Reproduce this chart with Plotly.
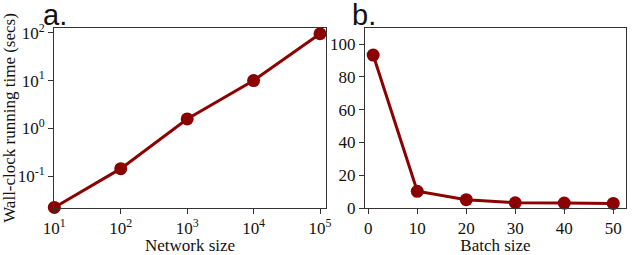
import plotly.graph_objects as go

network_size = [10, 100, 1000, 10000, 100000]
runtime_a = [0.0225, 0.145, 1.58, 10.0, 95.0]

batch_size = [1, 10, 20, 30, 40, 50]
runtime_b = [93.3, 10.2, 5.1, 3.2, 3.0, 2.8]

xa_tickvals = [10, 100, 1000, 10000, 100000]
xa_ticktext = ["10<sup>1</sup>", "10<sup>2</sup>", "10<sup>3</sup>", "10<sup>4</sup>", "10<sup>5</sup>"]
ya_tickvals = [0.1, 1, 10, 100]
ya_ticktext = ["10<sup>-1</sup>", "10<sup>0</sup>", "10<sup>1</sup>", "10<sup>2</sup>"]

color = "#8b0000"
serif = "Liberation Serif"
FS = 17

W, H = 640, 255
L, R, T, B = 54, 14, 28, 47
PW, PH = W - L - R, H - T - B


def px_x(p):
    return (p - L) / PW


def px_y(p):
    return (H - B - p) / PH


fig = go.Figure()
fig.add_trace(go.Scatter(x=network_size, y=runtime_a, mode="lines+markers",
                         line=dict(color=color, width=3),
                         marker=dict(color=color, size=13),
                         cliponaxis=False, xaxis="x", yaxis="y", showlegend=False))
fig.add_trace(go.Scatter(x=batch_size, y=runtime_b, mode="lines+markers",
                         line=dict(color=color, width=3),
                         marker=dict(color=color, size=13),
                         cliponaxis=False, xaxis="x2", yaxis="y2", showlegend=False))

axis_common = dict(showline=True, mirror=True, linecolor="#333", linewidth=1,
                   ticks="outside", ticklen=5, tickcolor="#333", showgrid=False,
                   zeroline=False, automargin=False,
                   tickfont=dict(family=serif, size=FS, color="#111"))
title_font = dict(family=serif, size=FS, color="#111")

fig.update_layout(
    width=W, height=H,
    margin=dict(l=L, r=R, t=T, b=B),
    paper_bgcolor="white", plot_bgcolor="white",
    xaxis=dict(domain=[0, px_x(326)], type="log", range=[0.995, 5.09],
               tickvals=xa_tickvals, ticktext=xa_ticktext, anchor="y",
               title=dict(text="Network size", font=title_font, standoff=0),
               **axis_common),
    yaxis=dict(domain=[0, 1], type="log", range=[-1.66, 2.098],
               tickvals=ya_tickvals, ticktext=ya_ticktext, anchor="x",
               title=dict(text="Wall-clock running time (secs)", font=title_font, standoff=2),
               **axis_common),
    xaxis2=dict(domain=[px_x(365), 1], range=[-0.67, 52.6],
                tickvals=[0, 10, 20, 30, 40, 50], anchor="y2",
                title=dict(text="Batch size", font=title_font, standoff=0),
                **axis_common),
    yaxis2=dict(domain=[0, 1], range=[0, 109.8], tickvals=[0, 20, 40, 60, 80, 100], anchor="x2",
                **axis_common),
    annotations=[
        dict(text="a.", x=px_x(41), y=px_y(0), xref="paper", yref="paper", xanchor="left", yanchor="top",
             yshift=3, showarrow=False, font=dict(family="Liberation Sans", size=29, color="#111")),
        dict(text="b.", x=px_x(350), y=px_y(0), xref="paper", yref="paper", xanchor="left", yanchor="top",
             yshift=3, showarrow=False, font=dict(family="Liberation Sans", size=29, color="#111")),
    ],
)

fig.write_html("out.html", config={"displayModeBar": False},
               post_script="document.body.style.margin='0';document.body.style.overflow='hidden';")
